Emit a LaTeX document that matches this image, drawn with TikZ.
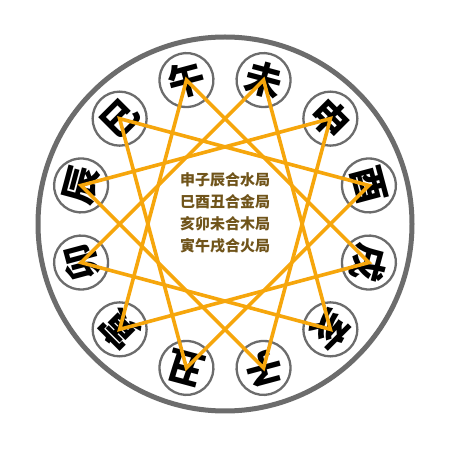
\documentclass[tikz,border=0pt]{standalone}
\usepackage{fontspec}
\newfontfamily\zhifont{Noto Sans CJK SC}
\definecolor{hejuorange}{RGB}{246,166,12}
\definecolor{ringgray}{RGB}{108,108,108}
\definecolor{textbrown}{RGB}{112,84,26}
\tikzset{
  zhinode/.style={circle, draw=ringgray, line width=2.3pt, fill=white,
    minimum size=54pt, inner sep=0pt, font=\zhifont\bfseries\fontsize{37}{37}\selectfont},
  heju/.style={draw=hejuorange, line width=3.6pt, line join=miter}
}
\begin{document}
\begin{tikzpicture}[x=1pt,y=1pt]
\useasboundingbox (0,0) rectangle (450,450);
\fill[white] (0,0) rectangle (450,450);

\begin{scope}[shift={(225,226)}]
\node (mitte) at (0,0) {};
% Aussenkreis
\draw[ringgray, line width=5pt] (mitte.center) circle (187);

% zwoelf Erdzweige
\foreach \z [count=\i from 0] in {午,未,申,酉,戌,亥,子,丑,寅,卯,辰,巳}
  \node[zhinode, rotate=15-30*\i] (b\i) at (105-30*\i:149) {\z};

% Dreiecke
\draw[heju] (b2.center) -- (b6.center) -- (b10.center) -- cycle;
\draw[heju] (b11.center) -- (b3.center) -- (b7.center) -- cycle;
\draw[heju] (b5.center) -- (b9.center) -- (b1.center) -- cycle;
\draw[heju] (b8.center) -- (b0.center) -- (b4.center) -- cycle;

\node[font=\zhifont\bfseries\fontsize{15}{22}\selectfont, text=textbrown, align=center] (ju) at (0,11)
  {申子辰合水局\\巳酉丑合金局\\亥卯未合木局\\寅午戌合火局};
\end{scope}
\end{tikzpicture}
\end{document}
